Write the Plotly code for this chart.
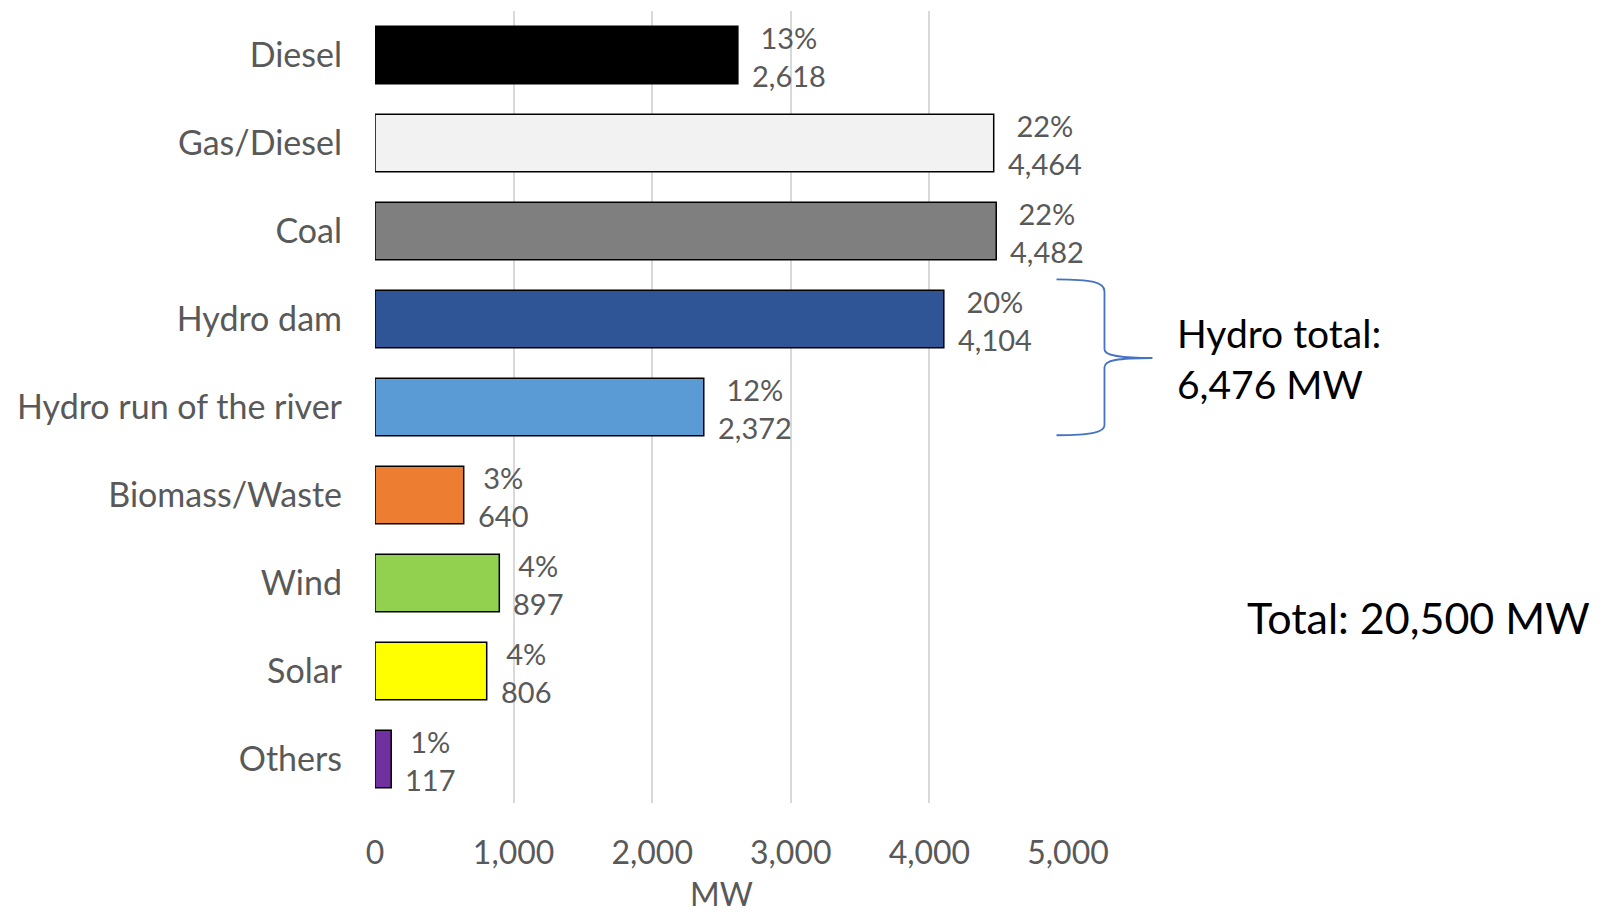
import plotly.graph_objects as go

categories = ["Diesel", "Gas/Diesel", "Coal", "Hydro dam", "Hydro run of the river",
              "Biomass/Waste", "Wind", "Solar", "Others"]
capacity_mw = [2618, 4464, 4482, 4104, 2372, 640, 897, 806, 117]
share_pct = [13, 22, 22, 20, 12, 3, 4, 4, 1]
bar_colors = ["#000000", "#F2F2F2", "#7F7F7F", "#2F5597", "#5B9BD5",
              "#ED7D31", "#92D050", "#FFFF00", "#7030A0"]
x_ticks = [0, 1000, 2000, 3000, 4000, 5000]
x_tick_labels = ["0", "1,000", "2,000", "3,000", "4,000", "5,000"]
x_title = "MW"
hydro_total_text = "Hydro total:<br>6,476 MW"
total_text = "Total: 20,500 MW"

FONT = "Lato"
GRAY = "#595959"

W, H = 1611, 916
L, R, T, B = 375, 542.5, 10.5, 113
PW, PH = W - L - R, H - T - B


def px(x):
    return (x - L) / PW


def py(y):
    return (H - B - y) / PH


fig = go.Figure()
fig.add_trace(go.Bar(
    x=capacity_mw, y=categories, orientation="h",
    marker=dict(color=bar_colors, line=dict(color="#000000", width=1.5)),
    hoverinfo="skip",
))

annotations = []
for c, v, s in zip(categories, capacity_mw, share_pct):
    annotations.append(dict(
        x=v, y=c, xref="x", yref="y", xanchor="left", yanchor="middle",
        xshift=12, yshift=-1, text=f"{s}%<br>{v:,}", showarrow=False, align="center",
        font=dict(family=FONT, size=29, color=GRAY),
    ))

annotations.append(dict(
    x=0.5, y=py(915), xref="paper", yref="paper", xanchor="center", yanchor="bottom",
    text=x_title, showarrow=False,
    font=dict(family=FONT, size=32, color=GRAY),
))
annotations.append(dict(
    x=px(1176), y=py(358), xref="paper", yref="paper", xanchor="left", yanchor="middle",
    text=hydro_total_text, showarrow=False, align="left",
    font=dict(family=FONT, size=39, color="#000000"),
))
annotations.append(dict(
    x=px(1246), y=py(617), xref="paper", yref="paper", xanchor="left", yanchor="middle",
    text=total_text, showarrow=False, align="left",
    font=dict(family=FONT, size=43, color="#000000"),
))

brace_pts = [
    ("M", [(1057, 279)]),
    ("C", [(1092, 279), (1105, 282), (1105, 291)]),
    ("L", [(1105, 349)]),
    ("C", [(1105, 355), (1118, 357.7), (1153, 357.7)]),
    ("C", [(1118, 357.7), (1105, 360), (1105, 367)]),
    ("L", [(1105, 425)]),
    ("C", [(1105, 432), (1092, 435), (1057, 435)]),
]
path = " ".join(cmd + " " + " ".join(f"{px(x):.5f},{py(y):.5f}" for x, y in pts)
                for cmd, pts in brace_pts)

fig.update_layout(
    width=W, height=H,
    margin=dict(l=L, r=R, t=T, b=B, pad=0, autoexpand=False),
    paper_bgcolor="white", plot_bgcolor="white",
    bargap=0.347, showlegend=False,
    font=dict(family=FONT, color=GRAY),
    annotations=annotations,
    shapes=[dict(type="path", path=path, xref="paper", yref="paper",
                 line=dict(color="#4472C4", width=1.8))],
    xaxis=dict(
        range=[0, 5000], tickvals=x_ticks, ticktext=x_tick_labels,
        showgrid=True, gridcolor="#D9D9D9", gridwidth=1.5,
        zeroline=False, showline=False, ticks="", automargin=False,
        tickfont=dict(family=FONT, size=32, color=GRAY),
        ticklabelstandoff=28,
    ),
    yaxis=dict(
        categoryorder="array", categoryarray=categories, autorange="reversed",
        showgrid=False, zeroline=False, showline=False, ticks="", automargin=False,
        tickfont=dict(family=FONT, size=34, color=GRAY),
        ticklabelstandoff=32,
    ),
)

fig.write_html("out.html")
